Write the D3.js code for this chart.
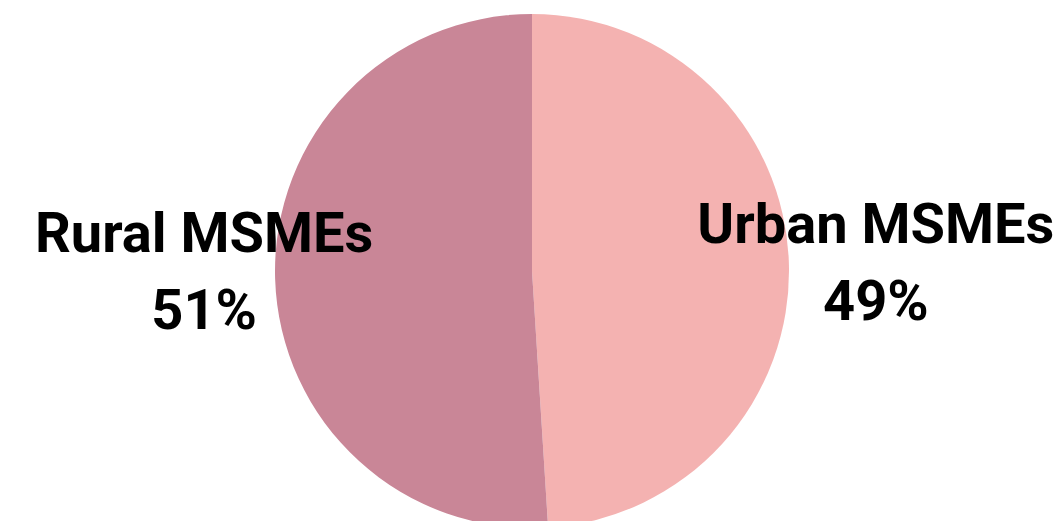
<!DOCTYPE html>
<html>
<head>
<meta charset="utf-8">
<script src="https://cdn.jsdelivr.net/npm/d3@7"></script>
<style>
  html, body { margin: 0; padding: 0; background: #ffffff; }
  svg { display: block; }
  text { font-family: Roboto, "Noto Sans", sans-serif; font-weight: 700; fill: #000; }
</style>
</head>
<body>
<svg id="chart" width="1064" height="521"></svg>
<script>
// Share of MSMEs by location
const categories = ["Urban MSMEs", "Rural MSMEs"];
const shares = [49, 51];
const colors = ["#F4B2B1", "#C98697"];

const width = 1064, height = 521;
const cx = 532, cy = 271, radius = 257;
const labelRadius = 336;
const fontSize = 56;
const lineGap = 77;
// fine placement of each label's first baseline relative to its arc centroid
const labelNudge = [[8, -17], [8, -30]];

const svg = d3.select("#chart");
const g = svg.append("g").attr("transform", `translate(${cx},${cy})`);

const data = categories.map((c, i) => ({ name: c, value: shares[i], color: colors[i], nudge: labelNudge[i] }));

const pie = d3.pie().value(d => d.value).sort(null);
const arc = d3.arc().innerRadius(0).outerRadius(radius);
const labelArc = d3.arc().innerRadius(labelRadius).outerRadius(labelRadius);

const arcs = pie(data);

g.selectAll("path.slice")
  .data(arcs)
  .join("path")
  .attr("class", "slice")
  .attr("d", arc)
  .attr("fill", d => d.data.color);

// Two-line labels: category name above, percentage below
const label = g.selectAll("text.label")
  .data(arcs)
  .join("text")
  .attr("class", "label")
  .attr("text-anchor", "middle")
  .attr("font-size", fontSize)
  .attr("transform", d => {
    const [x, y] = labelArc.centroid(d);
    return `translate(${x + d.data.nudge[0]},${y + d.data.nudge[1]})`;
  });

label.append("tspan")
  .attr("x", 0)
  .attr("y", 0)
  .text(d => d.data.name);

label.append("tspan")
  .attr("x", 0)
  .attr("y", lineGap)
  .text(d => d.data.value + "%");
</script>
</body>
</html>
